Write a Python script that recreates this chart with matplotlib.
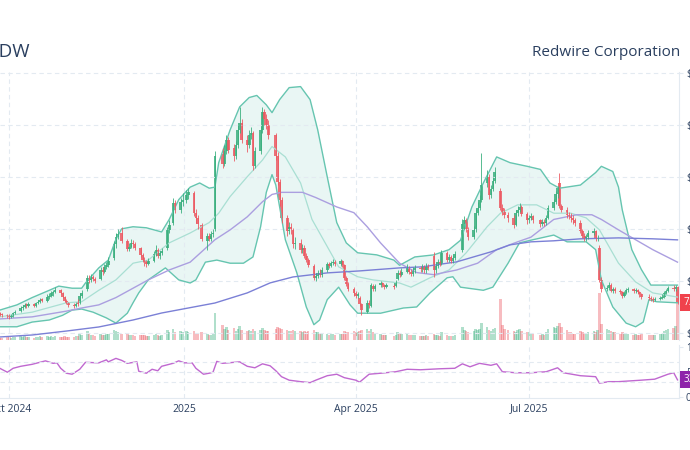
import numpy as np
import pandas as pd
import matplotlib
matplotlib.use("Agg")
import matplotlib.pyplot as plt
import matplotlib.dates as mdates

plt.rcParams['font.family'] = ['Open Sans', 'DejaVu Sans']

# ---- daily candles, 2024-09-26 .. 2025-09-17 (one line per month) ----
close = [6.8, 6.7, 6.6,
         6.5, 6.6, 6.9, 7.0, 7.4, 7.5, 7.7, 7.6, 7.8, 7.6, 7.9, 8.0, 8.2, 8.1, 8.5, 8.6, 8.8, 8.9, 9.1, 8.8, 8.5, 8.1, 7.9,
         7.7, 7.6, 7.8, 7.8, 8.6, 8.8, 10.3, 10.1, 10.4, 10.2, 10.0, 11.0, 10.9, 11.3, 11.5, 11.9, 13.5, 14.2, 14.5, 13.8,
         13.1, 13.3, 13.6, 13.5, 13.2, 12.5, 12.0, 11.8, 11.6, 11.9, 12.6, 13.0, 12.4, 12.7, 12.9, 14.9, 15.4, 17.5, 16.8, 17.6, 17.8,
         18.2, 18.5, 16.5, 16.0, 15.5, 14.0, 14.3, 14.0, 14.5, 14.6, 22.0, 21.2, 22.5, 23.5, 22.6, 22.0, 23.0, 24.5, 25.2, 23.5,
         23.0, 24.0, 24.2, 21.0, 22.5, 24.5, 26.2, 25.5, 25.0, 24.0, 22.0, 19.5, 17.8, 16.0, 14.8, 15.2, 14.9, 13.5, 13.6,
         13.0, 13.2, 12.4, 12.0, 11.5, 10.3, 10.5, 10.8, 10.6, 11.0, 11.6, 11.4, 11.7, 11.8, 11.6, 11.9, 11.5, 10.3, 9.7, 9.2, 8.8,
         8.6, 8.7, 7.8, 7.2, 7.9, 7.7, 9.6, 9.2, 9.5, 9.8, 9.6, 9.4, 9.6, 9.4, 9.9, 10.8, 10.6, 10.9, 11.3, 10.9, 10.7,
         11.0, 11.2, 11.1, 11.3, 11.0, 11.4, 11.2, 11.0, 11.4, 11.8, 11.6, 12.7, 12.0, 12.3, 11.9, 12.2, 12.6, 15.5, 15.8, 15.0, 14.2,
         14.9, 16.5, 17.0, 17.8, 19.2, 20.0, 18.2, 18.8, 19.6, 20.5, 17.0, 16.6, 16.3, 16.0, 15.4, 16.5, 16.8, 17.1, 16.4, 15.8,
         16.0, 16.2, 15.8, 15.5, 15.7, 15.6, 16.0, 17.0, 17.6, 18.3, 18.9, 17.2, 16.8, 16.3, 16.2, 16.0, 15.8, 15.6, 14.8, 14.3, 14.0, 14.2,
         14.6, 14.8, 14.0, 14.1, 10.1, 9.2, 9.3, 9.6, 9.0, 9.2, 9.0, 8.9, 8.6, 8.8, 9.1, 9.2, 9.0, 9.1, 8.9, 8.7, 8.5,
         8.4, 8.3, 8.2, 8.3, 8.4, 8.5, 8.8, 9.0, 9.3, 9.2, 9.4, 7.9]
open_ = [6.9, 6.8, 6.7,
         6.6, 6.5, 6.6, 6.9, 7.1, 7.4, 7.5, 7.8, 7.6, 7.8, 7.6, 7.9, 8.0, 8.3, 8.1, 8.5, 8.6, 8.8, 8.9, 9.1, 8.8, 8.5, 8.1,
         7.9, 7.7, 7.6, 8.0, 7.9, 8.6, 9.2, 10.3, 10.1, 10.4, 10.2, 10.2, 11.0, 10.9, 11.3, 11.5, 12.2, 13.5, 14.2, 14.6,
         13.8, 13.1, 13.3, 13.6, 13.5, 13.2, 12.5, 12.0, 11.8, 11.6, 11.9, 12.6, 13.0, 12.4, 12.7, 13.2, 14.9, 15.6, 17.5, 16.8, 17.6,
         17.8, 18.2, 18.4, 16.5, 16.0, 15.4, 13.8, 14.3, 14.0, 14.5, 15.0, 22.2, 21.2, 22.5, 23.5, 22.8, 22.0, 23.0, 24.5, 25.2,
         23.5, 23.0, 24.0, 24.2, 21.0, 22.5, 24.5, 26.2, 25.5, 25.0, 24.0, 22.0, 19.5, 17.8, 16.0, 14.8, 15.2, 14.9, 13.5,
         13.6, 13.0, 13.2, 12.4, 12.0, 11.4, 10.3, 10.5, 10.8, 10.6, 11.0, 11.6, 11.4, 11.7, 11.8, 11.6, 11.9, 11.5, 10.3, 9.7, 9.2,
         8.8, 8.6, 8.4, 7.8, 7.0, 7.9, 7.6, 9.5, 9.2, 9.6, 9.8, 9.6, 9.4, 9.5, 9.5, 10.2, 10.8, 10.6, 10.9, 11.3, 10.9,
         10.7, 11.0, 11.2, 11.1, 11.3, 11.0, 11.4, 12.4, 11.0, 11.4, 11.8, 11.6, 12.7, 12.0, 12.3, 11.9, 12.2, 13.0, 15.5, 15.8, 15.0,
         14.2, 14.9, 16.5, 17.0, 17.8, 19.4, 20.0, 18.2, 18.8, 19.6, 18.6, 17.0, 16.6, 16.3, 16.0, 15.4, 16.5, 16.8, 17.1, 16.4,
         15.8, 16.0, 16.2, 15.8, 15.5, 15.7, 15.6, 16.0, 17.0, 17.6, 18.3, 19.4, 17.2, 16.8, 16.3, 16.2, 16.0, 15.8, 15.6, 14.8, 14.3, 14.0,
         14.2, 14.6, 14.8, 14.0, 13.2, 10.1, 9.2, 9.3, 9.6, 9.0, 9.2, 9.0, 8.9, 8.6, 8.8, 9.1, 9.2, 9.0, 9.1, 8.9, 8.7,
         8.5, 8.4, 8.3, 8.2, 8.3, 8.4, 8.5, 8.8, 9.0, 9.3, 9.2, 9.4]
high = [7.0, 6.9, 6.8,
        6.8, 6.8, 7.0, 7.2, 7.6, 7.7, 7.9, 7.9, 8.0, 7.9, 8.0, 8.2, 8.4, 8.4, 8.7, 8.8, 9.0, 9.1, 9.4, 9.2, 8.9, 8.6, 8.3,
        8.0, 7.9, 8.0, 8.3, 8.8, 9.1, 10.6, 10.6, 10.7, 10.6, 10.4, 11.3, 11.3, 11.6, 11.8, 12.3, 13.8, 14.6, 15.0, 15.2,
        14.0, 13.6, 14.0, 13.9, 13.7, 13.3, 12.7, 12.3, 12.0, 12.2, 12.9, 13.4, 13.2, 12.9, 13.2, 15.2, 15.8, 18.0, 17.8, 18.0, 18.4,
        18.7, 18.9, 18.6, 16.9, 16.3, 15.6, 14.6, 14.6, 14.8, 15.0, 22.5, 22.8, 23.0, 24.0, 23.8, 23.1, 23.4, 25.0, 26.7, 25.5,
        24.0, 24.5, 24.8, 24.4, 22.9, 24.9, 26.7, 26.5, 26.0, 25.4, 24.2, 22.4, 19.8, 18.1, 16.3, 15.7, 15.6, 15.1, 14.2,
        14.0, 13.5, 13.4, 12.7, 12.2, 11.6, 10.8, 11.0, 11.1, 11.3, 11.8, 11.8, 11.9, 12.1, 12.0, 12.1, 12.0, 11.6, 10.5, 9.9, 9.4,
        9.0, 8.9, 8.6, 7.9, 8.2, 8.2, 9.8, 9.7, 9.7, 10.0, 9.9, 9.7, 9.8, 9.7, 10.1, 11.0, 11.0, 11.2, 11.6, 11.4, 11.1,
        11.3, 11.5, 11.4, 11.6, 11.5, 11.7, 11.6, 12.8, 11.7, 12.1, 12.0, 13.0, 12.9, 12.6, 12.5, 12.5, 12.9, 15.9, 16.2, 16.0, 15.2,
        15.3, 16.9, 17.6, 18.2, 22.3, 20.6, 20.3, 19.2, 20.0, 20.9, 18.9, 17.4, 17.0, 16.6, 16.3, 16.8, 17.2, 17.5, 17.3, 16.6,
        16.3, 16.5, 16.3, 15.9, 15.9, 15.9, 16.3, 17.3, 17.9, 18.6, 19.1, 20.4, 17.4, 17.1, 16.6, 16.5, 16.3, 16.0, 15.8, 15.0, 14.6, 14.5,
        14.9, 15.1, 14.9, 14.4, 13.4, 10.4, 9.6, 9.9, 9.8, 9.4, 9.4, 9.2, 9.0, 9.0, 9.3, 9.4, 9.3, 9.3, 9.2, 9.0, 8.8,
        8.7, 8.6, 8.5, 8.5, 8.6, 8.7, 9.0, 9.2, 9.5, 9.6, 9.6, 9.5]
low = [6.6, 6.5, 6.4,
       6.3, 6.4, 6.5, 6.8, 7.0, 7.2, 7.4, 7.4, 7.5, 7.5, 7.5, 7.8, 7.9, 8.0, 8.0, 8.3, 8.5, 8.6, 8.8, 8.7, 8.4, 8.0, 7.8,
       7.5, 7.4, 7.5, 7.6, 7.8, 8.4, 9.0, 9.8, 9.9, 10.0, 9.8, 10.1, 10.6, 10.8, 11.1, 11.3, 12.0, 13.2, 14.0, 13.6,
       12.9, 12.9, 13.2, 13.2, 13.0, 12.3, 11.8, 11.4, 11.3, 11.5, 11.8, 12.4, 12.2, 12.1, 12.5, 13.0, 14.6, 15.4, 16.5, 16.5, 17.2,
       17.5, 17.9, 16.2, 15.6, 15.0, 13.8, 13.0, 13.8, 13.8, 14.2, 14.8, 20.8, 21.0, 22.2, 22.3, 21.5, 21.7, 22.8, 24.2, 23.2,
       22.4, 22.8, 23.6, 20.6, 20.8, 22.2, 24.2, 25.0, 24.6, 23.6, 21.6, 19.2, 17.2, 15.6, 14.3, 14.5, 14.5, 13.2, 13.1,
       12.7, 12.7, 12.2, 11.8, 11.3, 10.1, 10.0, 10.3, 10.4, 10.4, 10.9, 11.2, 11.3, 11.5, 11.4, 11.4, 11.3, 10.1, 9.5, 9.0, 8.6,
       8.4, 8.4, 7.6, 6.7, 6.9, 7.4, 7.5, 9.0, 9.0, 9.4, 9.4, 9.2, 9.3, 9.2, 9.4, 10.1, 10.4, 10.5, 10.8, 10.7, 10.5,
       10.5, 10.8, 10.9, 10.9, 10.8, 10.8, 11.0, 10.4, 10.8, 11.2, 11.4, 11.5, 11.8, 11.8, 11.7, 11.7, 12.0, 12.8, 15.0, 14.7, 13.9,
       14.0, 14.7, 16.3, 16.8, 17.6, 19.0, 17.9, 18.0, 18.6, 19.4, 16.8, 16.3, 16.0, 15.7, 15.1, 15.3, 16.2, 16.6, 16.2, 15.5,
       15.6, 15.8, 15.6, 15.2, 15.3, 15.3, 15.4, 15.9, 16.8, 17.4, 18.0, 17.0, 16.6, 16.0, 15.9, 15.7, 15.5, 15.3, 14.6, 14.1, 13.8, 13.8,
       14.0, 14.4, 13.8, 13.8, 9.9, 8.9, 9.0, 9.1, 8.9, 8.8, 8.8, 8.7, 8.4, 8.5, 8.7, 8.9, 8.8, 8.8, 8.7, 8.5, 8.3,
       8.2, 8.1, 8.0, 8.1, 8.2, 8.3, 8.4, 8.7, 8.9, 9.0, 9.0, 7.8]
volume = [2, 2, 3,
          3, 2, 3, 3, 4, 3, 4, 3, 3, 2, 3, 3, 4, 3, 4, 3, 4, 3, 4, 3, 3, 4, 3,
          3, 3, 4, 4, 6, 5, 8, 6, 5, 5, 4, 6, 5, 5, 6, 6, 9, 8, 7, 6,
          6, 5, 5, 5, 4, 5, 5, 5, 4, 4, 5, 6, 5, 4, 5, 9, 7, 10, 7, 8, 7,
          8, 7, 8, 6, 6, 7, 6, 5, 5, 6, 25, 14, 10, 12, 9, 11, 8, 10, 13, 9,
          8, 9, 8, 10, 8, 9, 11, 9, 8, 8, 10, 12, 11, 10, 9, 8, 8, 9, 8,
          8, 7, 8, 7, 8, 9, 7, 7, 6, 6, 6, 5, 6, 6, 5, 6, 6, 8, 7, 7, 8,
          7, 7, 8, 9, 10, 8, 10, 7, 6, 6, 5, 5, 5, 4, 5, 7, 6, 6, 6, 5, 5,
          5, 5, 4, 4, 4, 5, 4, 6, 5, 5, 4, 7, 5, 4, 4, 4, 5, 12, 9, 8, 7,
          8, 10, 9, 10, 16, 12, 9, 8, 10, 11, 38, 14, 10, 9, 8, 7, 9, 10, 8, 7,
          7, 6, 6, 5, 6, 5, 7, 10, 12, 11, 13, 16, 12, 9, 7, 7, 6, 6, 8, 7, 6, 6,
          7, 8, 7, 9, 44, 15, 10, 9, 8, 7, 7, 6, 7, 6, 6, 6, 5, 6, 5, 5, 6,
          5, 5, 5, 5, 6, 6, 8, 9, 10, 11, 13, 47]
holidays = ['2024-11-28', '2024-12-25', '2025-01-01', '2025-01-09', '2025-01-20', '2025-02-17',
            '2025-04-18', '2025-05-26', '2025-06-19', '2025-07-04', '2025-09-01']

# ---- indicator lines ----
bb_up_dates = ['2024-09-26', '2024-10-05', '2024-10-13', '2024-10-22', '2024-10-27', '2024-11-03', '2024-11-08',
               '2024-11-10', '2024-11-17', '2024-11-22', '2024-11-26', '2024-11-29', '2024-12-05', '2024-12-12',
               '2024-12-20', '2024-12-24', '2024-12-29', '2025-01-04', '2025-01-09', '2025-01-14', '2025-01-17',
               '2025-01-19', '2025-01-25', '2025-01-30', '2025-02-04', '2025-02-08', '2025-02-13', '2025-02-16',
               '2025-02-20', '2025-02-25', '2025-03-03', '2025-03-08', '2025-03-12', '2025-03-17', '2025-03-22',
               '2025-03-27', '2025-04-02', '2025-04-12', '2025-04-21', '2025-04-24', '2025-05-02', '2025-05-12',
               '2025-05-20', '2025-05-26', '2025-06-01', '2025-06-07', '2025-06-14', '2025-06-21', '2025-06-30',
               '2025-07-07', '2025-07-12', '2025-07-17', '2025-07-28', '2025-08-05', '2025-08-08', '2025-08-14',
               '2025-08-17', '2025-08-19', '2025-08-24', '2025-08-29', '2025-09-03', '2025-09-17']
bb_up_vals = [7.2, 7.7, 8.4, 9.1, 9.5, 9.3, 9.3, 9.8, 11.25, 12.0, 14.0, 15.0, 15.2, 15.1, 14.7, 15.9, 17.8, 19.0,
              19.4, 18.9, 19.0, 21.35, 24.5, 26.7, 27.6, 27.8, 26.9, 26.15, 27.4, 28.55, 28.65, 27.4, 24.5, 20.0,
              15.6, 13.65, 12.7, 12.5, 12.0, 11.5, 12.3, 12.5, 13.0, 13.9, 17.1, 19.4, 21.9, 21.35, 21.0, 20.7,
              19.4, 18.9, 19.2, 20.4, 21.0, 20.5, 19.0, 16.8, 13.0, 11.1, 9.6, 9.6]
bb_lo_dates = ['2024-09-26', '2024-10-05', '2024-10-13', '2024-10-22', '2024-10-29', '2024-11-03', '2024-11-08',
               '2024-11-14', '2024-11-21', '2024-11-26', '2024-12-02', '2024-12-05', '2024-12-08', '2024-12-13',
               '2024-12-22', '2024-12-29', '2025-01-04', '2025-01-07', '2025-01-12', '2025-01-18', '2025-01-25',
               '2025-02-01', '2025-02-06', '2025-02-10', '2025-02-13', '2025-02-16', '2025-02-18', '2025-02-23',
               '2025-03-01', '2025-03-06', '2025-03-10', '2025-03-13', '2025-03-17', '2025-03-23', '2025-03-29',
               '2025-04-02', '2025-04-14', '2025-04-26', '2025-05-03', '2025-05-10', '2025-05-19', '2025-05-22',
               '2025-05-26', '2025-06-07', '2025-06-12', '2025-06-20', '2025-06-26', '2025-07-03', '2025-07-14',
               '2025-07-21', '2025-07-31', '2025-08-05', '2025-08-08', '2025-08-14', '2025-08-21', '2025-08-26',
               '2025-08-30', '2025-09-02', '2025-09-06', '2025-09-17']
bb_lo_vals = [5.6, 5.6, 6.05, 6.25, 6.7, 7.2, 7.3, 7.0, 6.45, 5.95, 6.9, 7.9, 8.85, 10.1, 11.25, 10.1, 9.8, 10.1,
              11.8, 12.0, 11.7, 11.7, 12.3, 15.2, 18.5, 20.2, 19.2, 13.95, 10.8, 7.5, 5.8, 6.25, 8.2, 9.4, 7.7,
              6.9, 6.9, 7.4, 7.5, 8.85, 10.3, 10.4, 9.4, 9.1, 9.4, 11.7, 13.65, 13.95, 14.4, 13.75, 13.75, 13.0,
              10.1, 7.5, 5.95, 5.6, 6.05, 8.2, 8.0, 7.9]
bb_mid_dates = ['2024-09-26', '2024-10-13', '2024-10-31', '2024-11-08', '2024-11-17', '2024-11-26', '2024-12-05',
                '2024-12-13', '2024-12-24', '2025-01-04', '2025-01-14', '2025-01-19', '2025-01-25', '2025-02-03',
                '2025-02-11', '2025-02-16', '2025-02-23', '2025-03-03', '2025-03-09', '2025-03-17', '2025-03-23',
                '2025-04-02', '2025-04-10', '2025-04-24', '2025-04-30', '2025-05-10', '2025-05-20', '2025-05-29',
                '2025-06-09', '2025-06-16', '2025-06-25', '2025-07-05', '2025-07-14', '2025-07-23', '2025-07-31',
                '2025-08-07', '2025-08-17', '2025-08-26', '2025-09-04', '2025-09-17']
bb_mid_vals = [6.55, 7.0, 7.9, 8.0, 9.1, 10.1, 11.7, 12.0, 13.65, 14.6, 15.6, 16.5, 18.1, 20.0, 21.6, 22.9, 21.9,
               19.4, 15.9, 13.3, 11.35, 10.4, 10.1, 9.8, 9.4, 10.3, 11.05, 12.7, 15.2, 16.5, 17.3, 17.3, 16.5,
               16.5, 16.05, 14.9, 11.7, 9.9, 8.85, 8.45]
sma50_dates = ['2024-09-26', '2024-10-13', '2024-10-31', '2024-11-08', '2024-11-17', '2024-11-26', '2024-12-05',
               '2024-12-13', '2024-12-24', '2025-01-04', '2025-01-17', '2025-01-25', '2025-02-03', '2025-02-11',
               '2025-02-16', '2025-02-21', '2025-03-04', '2025-03-11', '2025-03-22', '2025-03-31', '2025-04-07',
               '2025-04-14', '2025-04-24', '2025-05-03', '2025-05-12', '2025-05-24', '2025-06-04', '2025-06-14',
               '2025-06-25', '2025-07-02', '2025-07-14', '2025-07-26', '2025-08-03', '2025-08-08', '2025-08-17',
               '2025-08-26', '2025-09-04', '2025-09-17']
sma50_vals = [6.35, 6.55, 7.1, 7.4, 7.7, 8.4, 9.3, 10.1, 11.05, 11.8, 13.95, 14.9, 16.15, 17.6, 18.3, 18.5, 18.5,
              18.0, 17.1, 16.55, 15.2, 13.65, 11.7, 10.8, 10.6, 11.05, 11.7, 13.0, 13.75, 14.2, 15.9, 16.35,
              16.35, 15.9, 14.9, 13.95, 13.0, 11.8]
sma200_dates = ['2024-09-26', '2024-10-13', '2024-10-31', '2024-11-17', '2024-12-05', '2024-12-20', '2025-01-17',
                '2025-02-03', '2025-02-15', '2025-02-27', '2025-03-17', '2025-04-03', '2025-04-24', '2025-05-06',
                '2025-05-24', '2025-06-11', '2025-06-21', '2025-07-02', '2025-07-14', '2025-07-28', '2025-08-17',
                '2025-09-04', '2025-09-17']
sma200_vals = [4.62, 4.81, 5.19, 5.58, 6.25, 6.92, 7.88, 8.85, 9.81, 10.38, 10.77, 10.96, 11.25, 11.35, 11.83,
               12.79, 13.46, 13.75, 13.85, 14.04, 14.13, 14.04, 13.94]
rsi_dates = ['2024-09-26', '2024-09-30', '2024-10-03', '2024-10-07', '2024-10-13', '2024-10-17', '2024-10-20',
             '2024-10-24', '2024-10-26', '2024-10-28', '2024-10-31', '2024-11-03', '2024-11-07', '2024-11-10',
             '2024-11-17', '2024-11-21', '2024-11-22', '2024-11-26', '2024-11-29', '2024-12-02', '2024-12-07',
             '2024-12-08', '2024-12-12', '2024-12-15', '2024-12-18', '2024-12-20', '2024-12-26', '2024-12-29',
             '2025-01-01', '2025-01-05', '2025-01-07', '2025-01-11', '2025-01-14', '2025-01-16', '2025-01-18',
             '2025-01-21', '2025-01-27', '2025-01-30', '2025-02-03', '2025-02-07', '2025-02-11', '2025-02-15',
             '2025-02-18', '2025-02-21', '2025-02-25', '2025-03-03', '2025-03-08', '2025-03-11', '2025-03-17',
             '2025-03-22', '2025-03-26', '2025-04-01', '2025-04-03', '2025-04-08', '2025-04-14', '2025-04-22',
             '2025-04-28', '2025-05-05', '2025-05-15', '2025-05-23', '2025-05-27', '2025-05-31', '2025-06-05',
             '2025-06-11', '2025-06-14', '2025-06-17', '2025-06-24', '2025-07-02', '2025-07-10', '2025-07-16',
             '2025-07-19', '2025-07-28', '2025-08-05', '2025-08-07', '2025-08-12', '2025-08-17', '2025-08-29',
             '2025-09-05', '2025-09-12', '2025-09-15', '2025-09-17']
rsi_vals = [57, 49, 57, 61, 65, 69, 72, 67, 68, 57, 47, 45, 55, 69, 68, 74, 70, 77, 73, 67, 70, 51, 47, 55, 52,
            61, 67, 72, 68, 68, 57, 45, 47, 49, 71, 67, 69, 70, 61, 58, 66, 62, 52, 40, 33, 30, 28, 33, 42, 45,
            38, 33, 29, 45, 47, 50, 55, 54, 56, 57, 66, 60, 67, 63, 66, 50, 48, 48, 50, 58, 48, 42, 40, 27, 30,
            30, 33, 35, 45, 48, 33.6]

dates = pd.bdate_range('2024-09-26', periods=len(close), freq='C', holidays=holidays)
x = mdates.date2num(dates)
o, c, h, l = map(np.array, (open_, close, high, low))
up = c >= o

GREEN, RED = '#3aaf7e', '#ec5962'
GRID = '#e3eaf1'
TXT = '#2a3f5f'

fig = plt.figure(figsize=(6.9, 4.5), dpi=100)
W, H = 690.0, 450.0
price_rect = [0, 1 - 340 / H, 679 / W, 268 / H]
rsi_rect = [0, 1 - 398 / H, 679 / W, 53 / H]

x0 = mdates.date2num(pd.Timestamp('2024-10-01')) - 9.3 / 1.904
x1 = mdates.date2num(pd.Timestamp('2025-07-01')) + 150 / 1.904

# volume (behind)
vax = fig.add_axes(price_rect)
vax.bar(x[up], np.array(volume)[up], width=1.3, color=GREEN, alpha=0.4, linewidth=0)
vax.bar(x[~up], np.array(volume)[~up], width=1.3, color=RED, alpha=0.4, linewidth=0)
vax.set_ylim(0, 250)
vax.set_xlim(x0, x1)
vax.axis('off')

ax = fig.add_axes(price_rect)
ax.patch.set_visible(False)

# bollinger fill
fx = np.concatenate([mdates.datestr2num(bb_up_dates), mdates.datestr2num(bb_lo_dates)[::-1]])
fy = np.concatenate([bb_up_vals, bb_lo_vals[::-1]])
ax.fill(fx, fy, color='#5cbfaa', alpha=0.13, linewidth=0)
ax.plot(mdates.datestr2num(bb_up_dates), bb_up_vals, color='#66c5b0', lw=1.0)
ax.plot(mdates.datestr2num(bb_lo_dates), bb_lo_vals, color='#66c5b0', lw=1.0)
ax.plot(mdates.datestr2num(bb_mid_dates), bb_mid_vals, color='#a9dfd3', lw=0.9)
ax.plot(mdates.datestr2num(sma50_dates), sma50_vals, color='#ab9fe0', lw=1.0)
ax.plot(mdates.datestr2num(sma200_dates), sma200_vals, color='#7b80d6', lw=1.0)

# candles
cols = np.where(up, GREEN, RED)
ax.vlines(x, l, h, colors=cols, lw=0.7, alpha=0.85)
ax.bar(x, np.maximum(np.abs(c - o), 0.08), bottom=np.minimum(o, c), width=1.4, color=cols,
       alpha=0.85, linewidth=0)

ax.set_xlim(x0, x1)
ax.set_ylim(4.33, 30.05)
ax.yaxis.tick_right()
ax.set_yticks([5, 10, 15, 20, 25, 30])
ax.set_yticklabels(['$5', '$10', '$15', '$20', '$25', '$30'])
ax.tick_params(axis='y', length=3, pad=2, labelsize=7, colors=TXT, color=GRID)
ax.grid(axis='y', color=GRID, ls=(0, (4, 3)), lw=0.8)
xt = mdates.datestr2num(['2024-10-01', '2025-01-01', '2025-04-01', '2025-07-01'])
ax.set_xticks(xt)
ax.tick_params(axis='x', length=0, labelbottom=False)
ax.grid(axis='x', color=GRID, ls=(0, (4, 3)), lw=0.8)
for s in ['left', 'bottom', 'top']:
    ax.spines[s].set_visible(False)
ax.spines['right'].set_color(GRID)

ax.annotate(f'{close[-1]:.2f}', xy=(1, close[-1]), xycoords=('axes fraction', 'data'),
            xytext=(3, 0), textcoords='offset points', ha='left', va='center', color='white',
            fontsize=7, bbox=dict(boxstyle='square,pad=0.3', fc='#f0424c', ec='none'))

# RSI panel
rax = fig.add_axes(rsi_rect)
rax.plot(mdates.datestr2num(rsi_dates), rsi_vals, color='#c068d0', lw=1.0)
rax.axhline(70, color=GRID, ls=(0, (4, 3)), lw=0.8)
rax.axhline(50, color=GRID, ls=(0, (4, 3)), lw=0.8)
rax.axhline(30, color=GRID, ls=(0, (4, 3)), lw=0.8)
rax.set_xlim(x0, x1)
rax.set_ylim(-3, 104)
rax.yaxis.tick_right()
rax.set_yticks([0, 50, 100])
rax.tick_params(axis='y', length=3, pad=2, labelsize=7, colors=TXT, color=GRID)
rax.set_xticks(xt)
rax.set_xticklabels(['Oct 2024', '2025', 'Apr 2025', 'Jul 2025'])
rax.tick_params(axis='x', length=0, pad=4, labelsize=7.5, colors=TXT)
rax.grid(axis='x', color=GRID, ls=(0, (4, 3)), lw=0.8)
for s in ['left', 'top']:
    rax.spines[s].set_visible(False)
rax.spines['right'].set_color(GRID)
rax.spines['bottom'].set_color(GRID)
rax.annotate(f'{rsi_vals[-1]:.2f}', xy=(1, rsi_vals[-1]), xycoords=('axes fraction', 'data'),
             xytext=(3, 0), textcoords='offset points', ha='left', va='center', color='white',
             fontsize=7, bbox=dict(boxstyle='square,pad=0.3', fc='#8e24aa', ec='none'))

fig.text(-13 / W, 1 - 52 / H, 'RDW', fontsize=13.5, color=TXT, ha='left', va='center')
fig.text(680 / W, 1 - 52 / H, 'Redwire Corporation', fontsize=11, color=TXT, ha='right', va='center')

fig.savefig('out.png', dpi=100)
